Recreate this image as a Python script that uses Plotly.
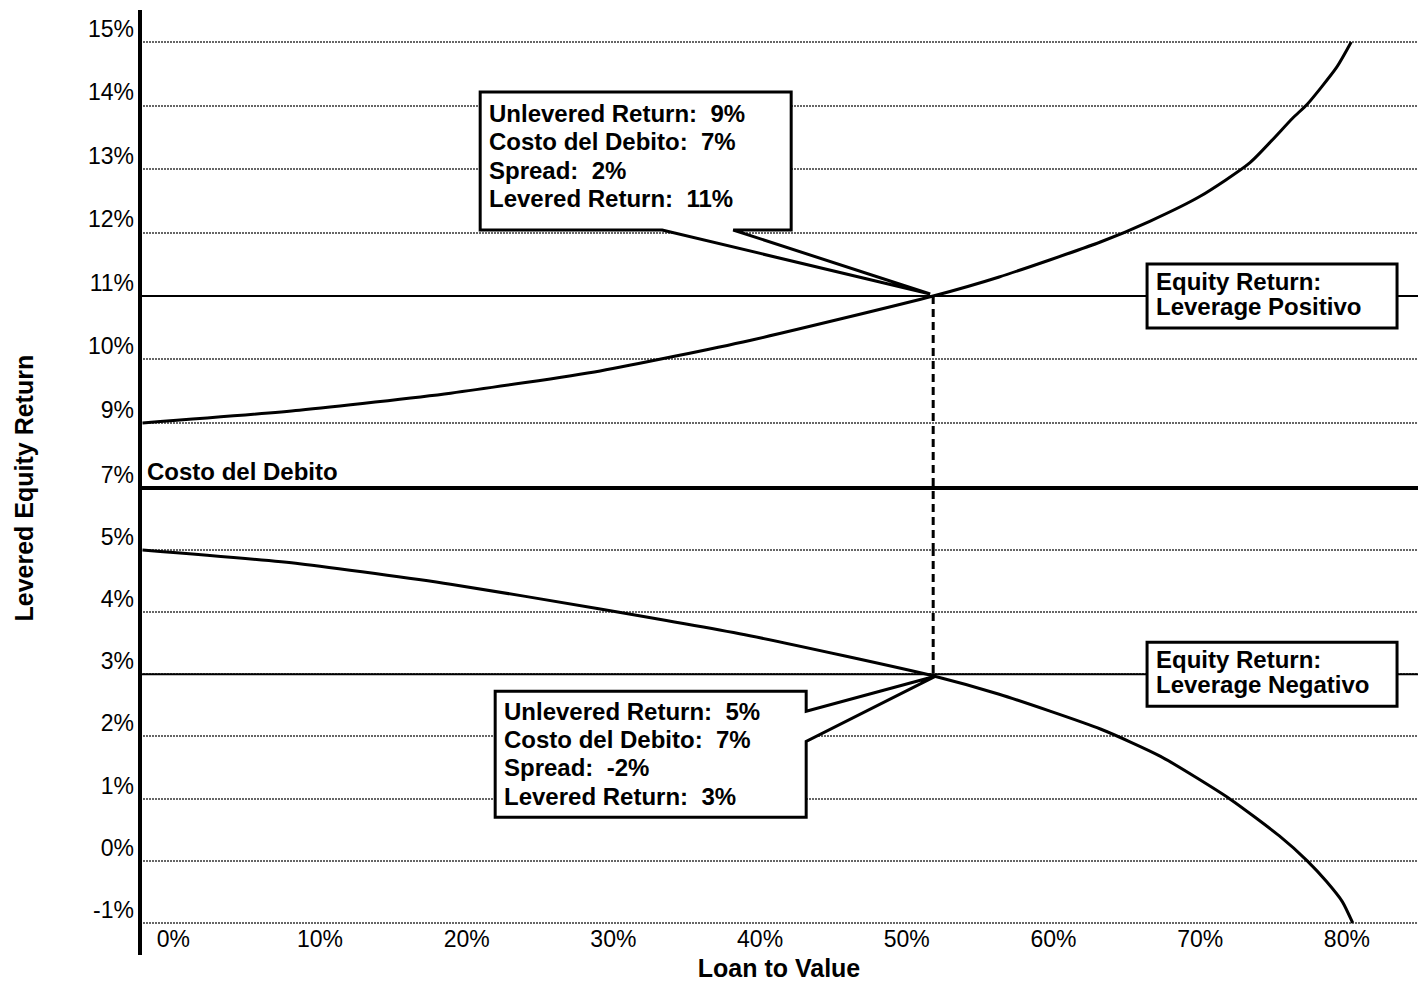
import plotly.graph_objects as go

FONT = "Arial, 'Liberation Sans', sans-serif"

# Loan to value (fraction) along each curve and the levered equity return (%) at that point
ltv_pos = [-0.021, 0.086, 0.189, 0.291, 0.393, 0.518, 0.563, 0.632, 0.666, 0.700, 0.734, 0.763, 0.773, 0.793, 0.803]
ret_pos = [9.00, 9.20, 9.47, 9.82, 10.30, 11.00, 11.30, 11.85, 12.18, 12.57, 13.10, 13.80, 14.02, 14.60, 15.00]

ltv_neg = [-0.021, 0.086, 0.189, 0.291, 0.393, 0.519, 0.563, 0.632, 0.673, 0.720, 0.754, 0.773, 0.786, 0.797, 0.804]
ret_neg = [5.00, 4.78, 4.45, 4.05, 3.62, 2.97, 2.68, 2.12, 1.68, 1.00, 0.40, 0.00, -0.33, -0.66, -1.00]

COST_OF_DEBT = 7
LEVERED_POS = 11
LEVERED_NEG = 3
BREAK_LTV = 0.518

x_ticks = [0, 0.1, 0.2, 0.3, 0.4, 0.5, 0.6, 0.7, 0.8]
x_labels = ["0%", "10%", "20%", "30%", "40%", "50%", "60%", "70%", "80%"]
y_up_ticks = [9, 10, 11, 12, 13, 14, 15]
y_mid_ticks = [7]
y_low_ticks = [-1, 0, 1, 2, 3, 4, 5]

callout_pos = ["Unlevered Return:  9%", "Costo del Debito:  7%", "Spread:  2%", "Levered Return:  11%"]
callout_neg = ["Unlevered Return:  5%", "Costo del Debito:  7%", "Spread:  -2%", "Levered Return:  3%"]
box_pos = ["Equity Return:", "Leverage Positivo"]
box_neg = ["Equity Return:", "Leverage Negativo"]

# broken value axis: upper band, compressed middle band, lower band
X_RANGE = [-0.0227, 0.8485]
Y_UP_RANGE = [8.9528, 15.504]
Y_MID_RANGE = [5.095, 8.968]
Y_LOW_RANGE = [-1.515, 5.032]
Y_UP_DOMAIN = [0.5598, 1.0]
Y_MID_DOMAIN = [0.4307, 0.5598]
Y_LOW_DOMAIN = [0.0, 0.4307]


def pct(v):
    return f"{v}%"


fig = go.Figure()

curve_line = dict(color="black", width=3, shape="spline", smoothing=0.6)
fig.add_trace(go.Scatter(x=ltv_pos, y=ret_pos, mode="lines", xaxis="x", yaxis="y",
                         line=curve_line, hoverinfo="skip"))
fig.add_trace(go.Scatter(x=ltv_neg, y=ret_neg, mode="lines", xaxis="x", yaxis="y2",
                         line=curve_line, hoverinfo="skip"))

grid = dict(showgrid=True, gridcolor="#666666", gridwidth=2, griddash="2px,1px",
            zeroline=False, showline=False, ticks="", ticklabelposition="outside top",
            ticklabelstandoff=5, ticklabelshift=3, automargin=False, anchor="x",
            tickfont=dict(family=FONT, size=23, color="black"))

shapes = []

# equity-return reference lines and the cost of debt
shapes.append(dict(type="line", xref="x domain", yref="y", x0=0, x1=1,
                   y0=LEVERED_POS, y1=LEVERED_POS, line=dict(color="black", width=2), layer="above"))
shapes.append(dict(type="line", xref="x domain", yref="y2", x0=0, x1=1,
                   y0=LEVERED_NEG, y1=LEVERED_NEG, line=dict(color="black", width=2), layer="above"))
shapes.append(dict(type="line", xref="x domain", yref="y3", x0=0, x1=1,
                   y0=COST_OF_DEBT, y1=COST_OF_DEBT, line=dict(color="black", width=4), layer="above"))

# dashed drop line through the three bands
dash = dict(color="black", width=3, dash="8px,5px")
shapes.append(dict(type="line", xref="x", yref="y", x0=BREAK_LTV, x1=BREAK_LTV,
                   y0=LEVERED_POS, y1=Y_UP_RANGE[0], line=dash, layer="above"))
shapes.append(dict(type="line", xref="x", yref="y3", x0=BREAK_LTV, x1=BREAK_LTV,
                   y0=Y_MID_RANGE[1], y1=Y_MID_RANGE[0], line=dash, layer="above"))
shapes.append(dict(type="line", xref="x", yref="y2", x0=BREAK_LTV, x1=BREAK_LTV,
                   y0=Y_LOW_RANGE[1], y1=LEVERED_NEG, line=dash, layer="above"))

# callout bubbles pointing at the two levered returns (pixel offsets from the point)
shapes.append(dict(type="path", xref="x", yref="y", xsizemode="pixel", ysizemode="pixel",
                   xanchor=BREAK_LTV, yanchor=LEVERED_POS,
                   path="M -453,204 L -142,204 L -142,66 L -200,66 L -3,2 L -271,66 L -453,66 Z",
                   fillcolor="white", line=dict(color="black", width=3), layer="above"))
shapes.append(dict(type="path", xref="x", yref="y2", xsizemode="pixel", ysizemode="pixel",
                   xanchor=BREAK_LTV, yanchor=LEVERED_NEG,
                   path="M -438,-17 L -127,-17 L -127,-37 L 2,-2 L -127,-67 L -127,-143 L -438,-143 Z",
                   fillcolor="white", line=dict(color="black", width=3), layer="above"))

# label boxes sitting on the two equity-return lines
for ref, val in (("y", LEVERED_POS), ("y2", LEVERED_NEG)):
    shapes.append(dict(type="rect", xref="paper", yref=ref, ysizemode="pixel", yanchor=val,
                       x0=0.788, x1=0.9836, y0=-32, y1=32,
                       fillcolor="white", line=dict(color="black", width=3), layer="above"))

# left value axis line
shapes.append(dict(type="line", xref="paper", yref="paper", x0=0, x1=0, y0=0, y1=1,
                   line=dict(color="black", width=4), layer="above"))

bold = dict(family=FONT, size=24, color="black")
annotations = []
for i, t in enumerate(callout_pos):
    annotations.append(dict(xref="x", yref="y", x=BREAK_LTV, y=LEVERED_POS,
                            xanchor="left", yanchor="middle", xshift=-446, yshift=183 - 28.5 * i,
                            showarrow=False, font=bold, text=f"<b>{t}</b>"))
for i, t in enumerate(callout_neg):
    annotations.append(dict(xref="x", yref="y2", x=BREAK_LTV, y=LEVERED_NEG,
                            xanchor="left", yanchor="middle", xshift=-431, yshift=-37 - 28.3 * i,
                            showarrow=False, font=bold, text=f"<b>{t}</b>"))
for ref, val, lines in (("y", LEVERED_POS, box_pos), ("y2", LEVERED_NEG, box_neg)):
    for i, t in enumerate(lines):
        annotations.append(dict(xref="paper", yref=ref, x=0.788, y=val,
                                xanchor="left", yanchor="middle", xshift=7, yshift=15 - 25 * i,
                                showarrow=False, font=bold, text=f"<b>{t}</b>"))
annotations.append(dict(xref="paper", yref="y3", x=0, y=COST_OF_DEBT, xanchor="left", yanchor="bottom",
                        xshift=5, yshift=1, showarrow=False, font=bold, text="<b>Costo del Debito</b>"))
annotations.append(dict(xref="paper", yref="paper", x=-0.0905, y=0.494, xanchor="center", yanchor="middle",
                        textangle=-90, showarrow=False, font=dict(family=FONT, size=25, color="black"),
                        text="<b>Levered Equity Return</b>"))

fig.update_layout(
    width=1418, height=982, autosize=False,
    margin=dict(l=140, r=0, t=10, b=27),
    template="none",
    paper_bgcolor="white", plot_bgcolor="white",
    showlegend=False,
    xaxis=dict(range=X_RANGE, tickvals=x_ticks, ticktext=x_labels,
               showgrid=False, zeroline=False, showline=False, ticks="",
               anchor="free", position=0.0339, automargin=False,
               tickfont=dict(family=FONT, size=23, color="black"),
               title=dict(text="<b>Loan to Value</b>", standoff=8,
                          font=dict(family=FONT, size=25, color="black"))),
    yaxis=dict(domain=Y_UP_DOMAIN, range=Y_UP_RANGE, tickvals=y_up_ticks,
               ticktext=[pct(v) for v in y_up_ticks], **grid),
    yaxis3=dict(domain=Y_MID_DOMAIN, range=Y_MID_RANGE, tickvals=y_mid_ticks,
                ticktext=[pct(v) for v in y_mid_ticks], **{**grid, "showgrid": False}),
    yaxis2=dict(domain=Y_LOW_DOMAIN, range=Y_LOW_RANGE, tickvals=y_low_ticks,
                ticktext=[pct(v) for v in y_low_ticks], **grid),
    shapes=shapes,
    annotations=annotations,
)

fig.write_html("out.html", config={"displayModeBar": False})
